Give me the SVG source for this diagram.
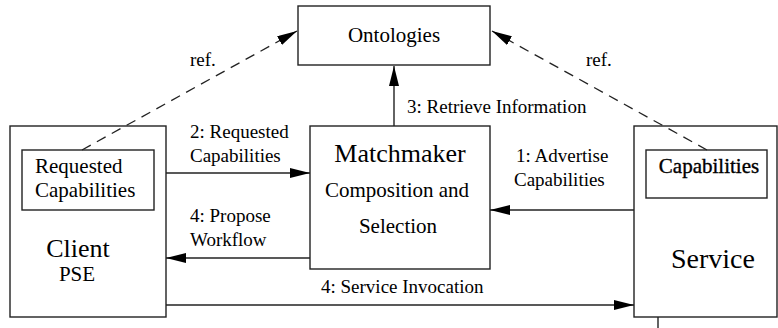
<svg xmlns="http://www.w3.org/2000/svg" width="778" height="328" viewBox="0 0 778 328">
<style>
.box{fill:#fff;stroke:#222;stroke-width:1.4}
.ln{fill:none;stroke:#222;stroke-width:1.4}
.dash{fill:none;stroke:#222;stroke-width:1.3;stroke-dasharray:10 7}
text{font-family:"Liberation Serif","Times New Roman",serif;fill:#000}
.lbl{font-size:19px}
.mid{text-anchor:middle}
</style>
<defs>
<marker id="ah" markerUnits="userSpaceOnUse" markerWidth="20" markerHeight="12" refX="20" refY="5" orient="auto">
<path d="M0,0 L20,5 L0,10 z" fill="#000"/>
</marker>
</defs>
<rect width="778" height="328" fill="#fff"/>
<g id="ontologies">
<rect class="box" x="298" y="6" width="192" height="59"/>
<text x="394" y="42" class="mid" font-size="21">Ontologies</text>
</g>
<g id="client">
<rect class="box" x="10" y="126" width="156" height="191"/>
<text x="78" y="257" class="mid" font-size="26">Client</text>
<text x="77" y="281" class="mid" font-size="21">PSE</text>
</g>
<g id="requested-capabilities">
<rect class="box" x="22" y="150" width="132" height="60"/>
<text x="35" y="173" font-size="21">Requested</text>
<text x="35" y="197" font-size="21">Capabilities</text>
</g>
<g id="matchmaker">
<rect class="box" x="310" y="126" width="180" height="143"/>
<text x="400" y="162" class="mid" font-size="26">Matchmaker</text>
<text x="397" y="197" class="mid" font-size="21">Composition and</text>
<text x="398" y="233" class="mid" font-size="21">Selection</text>
</g>
<g id="service">
<rect class="box" x="634" y="126" width="143" height="191"/>
<text x="713" y="268" class="mid" font-size="28">Service</text>
</g>
<g id="capabilities">
<rect class="box" x="646" y="150" width="121" height="48"/>
<text x="709" y="173" class="mid" font-size="21" stroke="#000" stroke-width="0.35">Capabilities</text>
</g>
<g id="connectors">
<line class="dash" x1="82" y1="150" x2="297" y2="31" marker-end="url(#ah)"/>
<line class="dash" x1="707" y1="150" x2="492" y2="31" marker-end="url(#ah)"/>
<line class="ln" x1="394" y1="126" x2="394" y2="66" marker-end="url(#ah)"/>
<line class="ln" x1="166" y1="173" x2="310" y2="173" marker-end="url(#ah)"/>
<line class="ln" x1="310" y1="258" x2="166" y2="258" marker-end="url(#ah)"/>
<line class="ln" x1="634" y1="210" x2="490" y2="210" marker-end="url(#ah)"/>
<line class="ln" x1="166" y1="305" x2="634" y2="305" marker-end="url(#ah)"/>
<line class="ln" x1="658" y1="317" x2="658" y2="328"/>
<text x="190" y="66" class="lbl">ref.</text>
<text x="586" y="66" class="lbl">ref.</text>
<text x="407" y="113" class="lbl">3: Retrieve Information</text>
<text x="190" y="138" class="lbl">2: Requested</text>
<text x="190" y="162" class="lbl">Capabilities</text>
<text x="190" y="222" class="lbl">4: Propose</text>
<text x="190" y="246" class="lbl">Workflow</text>
<text x="516" y="162" class="lbl">1: Advertise</text>
<text x="514" y="186" class="lbl">Capabilities</text>
<text x="321" y="293" class="lbl">4: Service Invocation</text>
</g>
</svg>
